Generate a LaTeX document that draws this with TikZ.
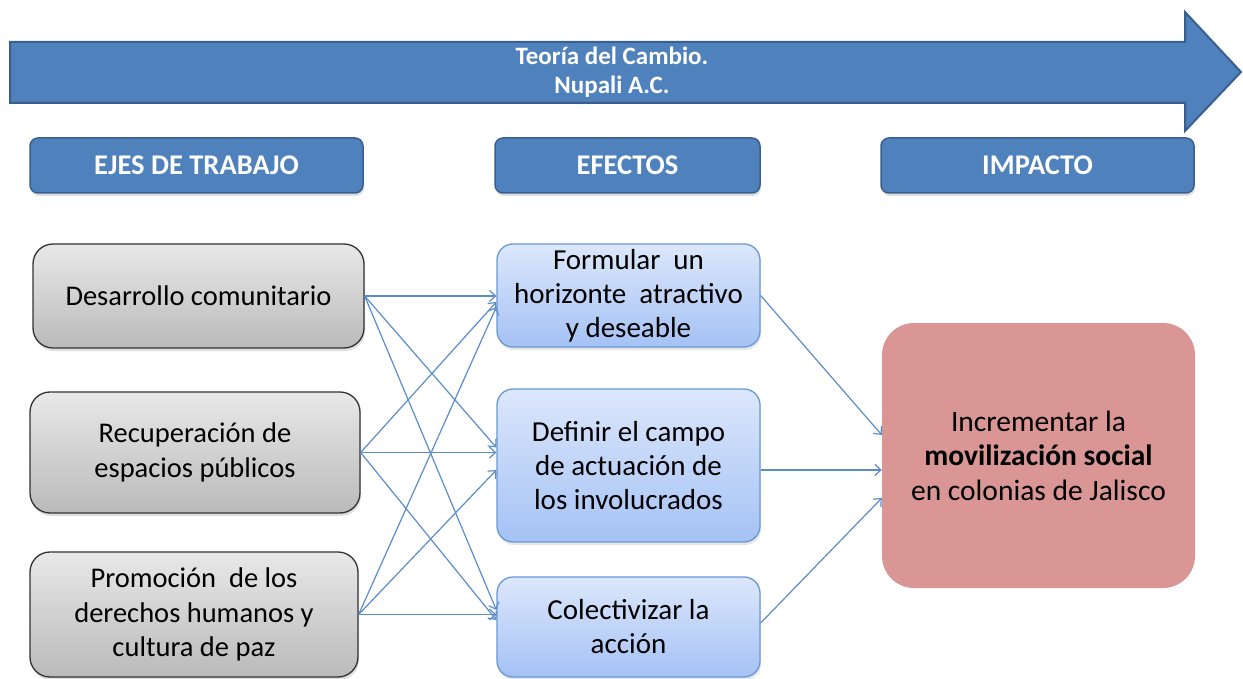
\documentclass[tikz,border=0pt]{standalone}
\usepackage{fontspec}
\setmainfont{Carlito}
\usetikzlibrary{arrows.meta,shadows}
\definecolor{ejeBlue}{HTML}{4F81BD}
\definecolor{ejeBorder}{HTML}{3A5F8D}
\definecolor{efTop}{HTML}{DCE7FB}
\definecolor{efBot}{HTML}{A5C2F5}
\definecolor{efBorder}{HTML}{6A98D4}
\definecolor{impColor}{HTML}{D99694}
\definecolor{lineColor}{HTML}{5B8CCB}
\tikzset{
	header/.style={draw=ejeBorder, line width=1.5pt, fill=ejeBlue, rounded corners=8pt,
		text=white, font=\fontsize{28.5}{30}\selectfont\bfseries, minimum height=55pt,
		drop shadow={opacity=0.25, shadow xshift=1pt, shadow yshift=-3pt}},
	eje/.style={draw=black!80, line width=1.3pt, rounded corners=20pt, top color=black!9,
		bottom color=black!27, align=center, font=\fontsize{28.5}{34.5}\selectfont,
		drop shadow={opacity=0.25, shadow xshift=1pt, shadow yshift=-3pt}},
	efecto/.style={draw=efBorder, line width=1.3pt, rounded corners=16pt, top color=efTop,
		bottom color=efBot, align=center, font=\fontsize{29}{34}\selectfont,
		minimum width=263pt, drop shadow={opacity=0.2, shadow xshift=1pt, shadow yshift=-3pt}},
	flecha/.style={draw=lineColor, line width=1.2pt, -{Straight Barb[length=6pt,width=11pt]}}
}

\begin{document}
\begin{tikzpicture}[x=1pt, y=-1pt]
	\useasboundingbox (0,0) rectangle (1243,679);
	
	% big arrow
	\draw[draw=ejeBorder, line width=2pt, fill=ejeBlue, line join=miter]
		(10,42) -- (1185,42) -- (1185,12) -- (1241,72) -- (1185,131) -- (1185,103) -- (10,103) -- cycle;
	\node[text=white, align=center, font=\fontsize{25}{29}\selectfont\bfseries] (titulo) at (612,72)
		{Teoría del Cambio.\\ Nupali A.C.};
	
	\node[header, minimum width=333pt] (hEjes) at (196.5,165.5) {EJES DE TRABAJO};
	\node[header, minimum width=265pt] (hEfectos) at (627.5,165.5) {EFECTOS};
	\node[header, minimum width=313pt] (hImpacto) at (1037.5,165.5) {IMPACTO};
	
	\node[eje, minimum width=331pt, minimum height=104pt] (l1) at (198.5,296) {Desarrollo comunitario};
	\node[eje, minimum width=330pt, minimum height=121pt] (l2) at (195,452.5) {Recuperación de\\ espacios públicos};
	\node[eje, minimum width=328pt, minimum height=125pt] (l3) at (194,614.5) {Promoción \ de los\\ derechos humanos y\\ cultura de paz};
	
	\node[efecto, minimum height=103pt] (m1) at (628.5,295.5) {Formular \ un\\ horizonte \ atractivo\\ y deseable};
	\node[efecto, minimum height=153pt] (m2) at (628.5,465.5) {Definir el campo\\ de actuación de\\ los involucrados};
	\node[efecto, minimum height=100pt] (m3) at (628.5,627) {Colectivizar la\\ acción};
	
	\node[fill=impColor, rounded corners=32pt, minimum width=313pt, minimum height=265pt,
		align=center, font=\fontsize{29.5}{34.5}\selectfont] (imp) at (1038.5,455.5)
		{Incrementar la\\ \textbf{movilización social}\\ en colonias de Jalisco};
	
	% ejes -> efectos
	\draw[flecha] (l1.east) -- (l1.east -| m1.west);
	\draw[flecha] (l1.east) -- ([yshift=18pt]m2.west);
	\draw[flecha] (l1.east) -- ([yshift=17pt]m3.west);
	\draw[flecha] (l2.east) -- ([yshift=-6.5pt]m1.west);
	\draw[flecha] (l2.east) -- (l2.east -| m2.west);
	\draw[flecha] (l2.east) -- ([yshift=7pt]m3.west);
	\draw[flecha] (l3.east) -- ([yshift=-11.5pt]m1.west);
	\draw[flecha] (l3.east) -- ([yshift=-4.5pt]m2.west);
	\draw[flecha] (l3.east) -- (l3.east -| m3.west);
	
	% efectos -> impacto
	\draw[flecha] (m1.east) -- ([yshift=20.5pt]imp.west);
	\draw[flecha] ([yshift=-4.5pt]m2.east) -- ([yshift=-14.5pt]imp.west);
	\draw[flecha] ([yshift=4pt]m3.east) -- ([yshift=-42.5pt]imp.west);
\end{tikzpicture}
\end{document}
